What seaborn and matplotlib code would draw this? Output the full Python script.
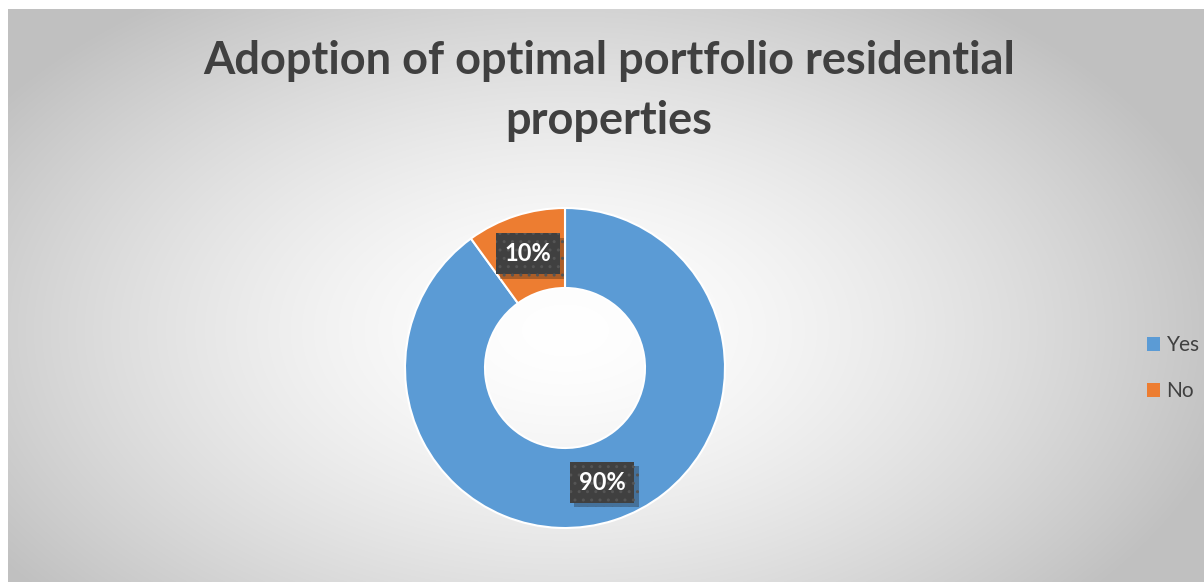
import numpy as np
import matplotlib
matplotlib.use("Agg")
import matplotlib.pyplot as plt
import matplotlib.patheffects as pe
import seaborn as sns
from matplotlib.patches import Patch

# data
labels = ["Yes", "No"]
values = [90, 10]
colors = ["#5B9BD5", "#ED7D31"]
title = "Adoption of optimal portfolio residential\nproperties"

sns.set_theme(style="white")
plt.rcParams["font.family"] = ["Lato", "DejaVu Sans"]

W, H = 1204, 582
fig = plt.figure(figsize=(W / 100, H / 100), dpi=100)
fig.patch.set_facecolor("white")

# radial grey gradient background of the chart area
bg = fig.add_axes([8 / W, 0, (W - 8) / W, (H - 9) / H])
yy, xx = np.mgrid[9:H, 8:W]
d = np.sqrt(((xx - 565) / 700.0) ** 2 + ((yy - 330) / 420.0) ** 2)
shade = np.clip(255 - 65 * d ** 1.5, 192, 255) / 255.0
bg.imshow(np.dstack([shade] * 3), aspect="auto", interpolation="bilinear")
bg.set_axis_off()

# donut
cx, cy, r = 565, H - 368, 160
ax = fig.add_axes([(cx - r) / W, (cy - r) / H, 2 * r / W, 2 * r / H])
wedges, _, autotexts = ax.pie(
    values, colors=colors, startangle=90, counterclock=False,
    autopct="%1.0f%%", pctdistance=0.75, radius=1,
    wedgeprops=dict(width=0.5, edgecolor="white", linewidth=1.5),
    textprops=dict(color="white", fontsize=17, fontweight="bold", zorder=5),
)
for t in autotexts:
    t.set_bbox(dict(boxstyle="square,pad=0.38", facecolor="#404040",
                    edgecolor="#555555", linewidth=0, hatch=".."))
    # soft drop shadow behind the label box
    t.get_bbox_patch().set_path_effects(
        [pe.SimplePatchShadow(offset=(3, -3), alpha=0.3), pe.Normal()])
ax.set_xlim(-1, 1)
ax.set_ylim(-1, 1)
ax.set_axis_off()

fig.text(609 / W, 1 - 91 / H, title, ha="center", va="center",
         fontsize=32.5, fontweight="bold", color="#404040", linespacing=1.55)

handles = [Patch(facecolor=c, edgecolor="none") for c in colors]
fig.legend(handles, labels, loc="center left", bbox_to_anchor=(1128 / W, 1 - 368 / H),
           frameon=False, fontsize=15, handlelength=0.65, handleheight=0.65,
           handletextpad=0.3, labelspacing=1.25, labelcolor="#404040")

fig.savefig("out.png", dpi=100)
